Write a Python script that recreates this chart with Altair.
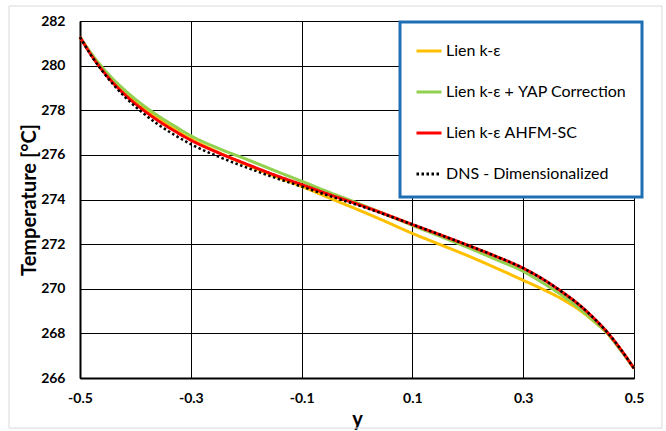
import altair as alt
import pandas as pd

y_pos = [-0.5, -0.48, -0.45, -0.42, -0.39, -0.36, -0.33, -0.3, -0.25, -0.2, -0.15, -0.1,
         -0.05, 0.0, 0.05, 0.1, 0.15, 0.2, 0.25, 0.3, 0.34, 0.37, 0.4, 0.43, 0.45, 0.475, 0.5]

lien = [281.28, 280.53, 279.58, 278.82, 278.19, 277.65, 277.16, 276.72, 276.11, 275.57, 275.06, 274.59,
        274.07, 273.56, 273.03, 272.48, 271.98, 271.48, 270.94, 270.38, 269.92, 269.54, 269.08, 268.49,
        268.05, 267.30, 266.43]
yap = [281.28, 280.56, 279.65, 278.92, 278.30, 277.77, 277.30, 276.86, 276.29, 275.81, 275.31, 274.82,
       274.32, 273.85, 273.35, 272.84, 272.35, 271.85, 271.32, 270.78, 270.19, 269.71, 269.15, 268.50,
       268.05, 267.27, 266.43]
ahfm = [281.28, 280.48, 279.50, 278.72, 278.09, 277.55, 277.08, 276.66, 276.09, 275.59, 275.11, 274.67,
        274.22, 273.80, 273.35, 272.88, 272.42, 271.95, 271.46, 270.92, 270.36, 269.86, 269.30, 268.62,
        268.10, 267.32, 266.43]
dns = [281.28, 280.46, 279.45, 278.62, 277.95, 277.38, 276.90, 276.48, 275.92, 275.44, 274.99, 274.58,
       274.16, 273.76, 273.33, 272.88, 272.42, 271.95, 271.46, 270.92, 270.36, 269.86, 269.30, 268.62,
       268.10, 267.32, 266.43]

series_names = ["Lien k-ε", "Lien k-ε + YAP Correction", "Lien k-ε AHFM-SC", "DNS - Dimensionalized"]
series_colors = ["#FFC000", "#92D050", "#FF0000", "#000000"]
series_dash = [[1, 0], [1, 0], [1, 0], [2.5, 2.5]]

x_ticks = [-0.5, -0.3, -0.1, 0.1, 0.3, 0.5]
y_ticks = [266, 268, 270, 272, 274, 276, 278, 280, 282]

rows = []
for name, vals in zip(series_names, [lien, yap, ahfm, dns]):
    for xv, tv in zip(y_pos, vals):
        rows.append({"y": xv, "T": tv, "series": name})
df = pd.DataFrame(rows)

FONT = "Lato"

color_scale = alt.Scale(domain=series_names, range=series_colors)
dash_scale = alt.Scale(domain=series_names, range=series_dash)
legend = alt.Legend(title=None, orient="none", legendX=320, legendY=1)

x_enc = alt.X("y:Q", scale=alt.Scale(domain=[-0.5, 0.5], nice=False),
              axis=alt.Axis(values=x_ticks, title="y", labelFlush=False,
                            labelExpr="datum.value < 0 ? '-' + format(-datum.value, '.1f') : format(datum.value, '.1f')",
                            labelPadding=13, titlePadding=4))
y_enc = alt.Y("T:Q", scale=alt.Scale(domain=[266, 282], nice=False, zero=False),
              axis=alt.Axis(values=y_ticks, title="Temperature [°C]", format="d", labelFlush=False,
                            labelPadding=15, titlePadding=1))

base = alt.Chart(df)

solid = base.transform_filter(alt.datum.series != "DNS - Dimensionalized").mark_line(
    strokeWidth=3, interpolate="monotone").encode(
    x=x_enc, y=y_enc,
    color=alt.Color("series:N", scale=color_scale, legend=legend, sort=series_names),
    strokeDash=alt.StrokeDash("series:N", scale=dash_scale, legend=legend, sort=series_names),
    detail="series:N",
)

dotted = base.transform_filter(alt.datum.series == "DNS - Dimensionalized").mark_line(
    strokeWidth=2.5, interpolate="monotone").encode(
    x=x_enc, y=y_enc,
    color=alt.Color("series:N", scale=color_scale, legend=legend, sort=series_names),
    strokeDash=alt.StrokeDash("series:N", scale=dash_scale, legend=legend, sort=series_names),
)

frame = alt.Chart(pd.DataFrame({"a": [0]})).mark_rect(
    fill=None, stroke="#D9D9D9", strokeWidth=1).encode(
    x=alt.value(-71), x2=alt.value(582), y=alt.value(-15), y2=alt.value(407))

chart = alt.layer(frame, solid, dotted).properties(
    width=554, height=357,
    autosize=alt.AutoSizeParams(type="none"),
    padding={"left": 80, "top": 21, "right": 32, "bottom": 53},
    background="white",
).configure_view(
    stroke="#000000", strokeWidth=1
).configure_axis(
    grid=True, gridColor="#000000", gridWidth=1, gridOpacity=1,
    domainColor="#000000", domainWidth=2,
    ticks=False,
    labelFont=FONT, labelFontSize=14, labelFontWeight="bold", labelColor="#000000",
    titleFont=FONT, titleFontSize=20, titleFontWeight="bold", titleColor="#000000",
).configure_legend(
    labelFont=FONT, labelFontSize=16, labelColor="#000000",
    symbolType="stroke", symbolSize=625, symbolStrokeWidth=3,
    rowPadding=19, padding=15, labelOffset=3,
    strokeColor="#1F6FB5", strokeWidth=3, fillColor="white",
    labelLimit=400,
)

chart.save("out.html", embed_options={"renderer": "svg", "actions": False})
